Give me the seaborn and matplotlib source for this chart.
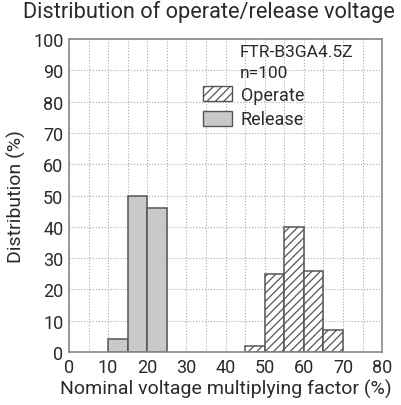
import numpy as np
import pandas as pd
import seaborn as sns
import matplotlib.pyplot as plt
from matplotlib.patches import Patch

# bin left edges (%) and distribution (%)
release_bins = [10, 15, 20]
release_vals = [4, 50, 46]
operate_bins = [45, 50, 55, 60, 65]
operate_vals = [2, 25, 40, 26, 7]
x_ticks = list(range(0, 81, 10))
y_ticks = list(range(0, 101, 10))

sns.set_style("white")
plt.rcParams['font.family'] = ['Roboto', 'DejaVu Sans']
plt.rcParams['hatch.linewidth'] = 0.9
txt = '#2a2a2a'

fig = plt.figure(figsize=(4.01, 4.06), dpi=100)
ax = fig.add_axes([0.172, 0.1305, 0.781, 0.771])

rel = pd.DataFrame({'x': [b + 2.5 for b in release_bins], 'w': release_vals})
ope = pd.DataFrame({'x': [b + 2.5 for b in operate_bins], 'w': operate_vals})
sns.histplot(data=rel, x='x', weights='w', binwidth=5, binrange=(10, 25), ax=ax,
             color='#c8c9cb', alpha=1, edgecolor='#555555', linewidth=1.1)
n0 = len(ax.patches)
sns.histplot(data=ope, x='x', weights='w', binwidth=5, binrange=(45, 70), ax=ax,
             color='white', alpha=1, edgecolor='#555555', linewidth=1.1)
for p in ax.patches[n0:]:
    p.set_hatch('////')

ax.set_xlim(0, 80)
ax.set_ylim(0, 100)
ax.set_xticks(x_ticks)
ax.set_yticks(y_ticks)
ax.set_xticks(range(0, 81, 5), minor=True)
ax.grid(True, which='both', axis='x', linestyle=':', color='#aaaaaa', linewidth=0.8)
ax.grid(True, which='major', axis='y', linestyle=':', color='#aaaaaa', linewidth=0.8)
ax.set_axisbelow(True)
ax.tick_params(axis='both', which='both', direction='in', length=3, color='#777777',
               labelsize=13, labelcolor=txt, pad=4)
for s in ax.spines.values():
    s.set_color('#888888')
    s.set_linewidth(1.2)

ax.set_xlabel('Nominal voltage multiplying factor (%)', fontsize=14, color=txt, labelpad=2)
ax.set_ylabel('Distribution (%)', fontsize=14, color=txt, labelpad=5)
fig.suptitle('Distribution of operate/release voltage', fontsize=15.7, color=txt,
             x=0.52, y=0.997)

ax.text(0.546, 0.946, 'FTR-B3GA4.5Z', transform=ax.transAxes, fontsize=12.5,
        color=txt, va='baseline', ha='left')
ax.text(0.546, 0.879, 'n=100', transform=ax.transAxes, fontsize=12.5,
        color=txt, va='baseline', ha='left')
handles = [Patch(facecolor='white', edgecolor='#555555', hatch='////', label='Operate'),
           Patch(facecolor='#c8c9cb', edgecolor='#555555', label='Release')]
ax.legend(handles=handles, loc='upper left', bbox_to_anchor=(0.428, 0.85), frameon=False,
          borderaxespad=0, borderpad=0,
          fontsize=13, handlelength=1.6, handleheight=0.9, handletextpad=0.5,
          labelspacing=0.35, labelcolor=txt)

fig.savefig('out.png', dpi=100)
